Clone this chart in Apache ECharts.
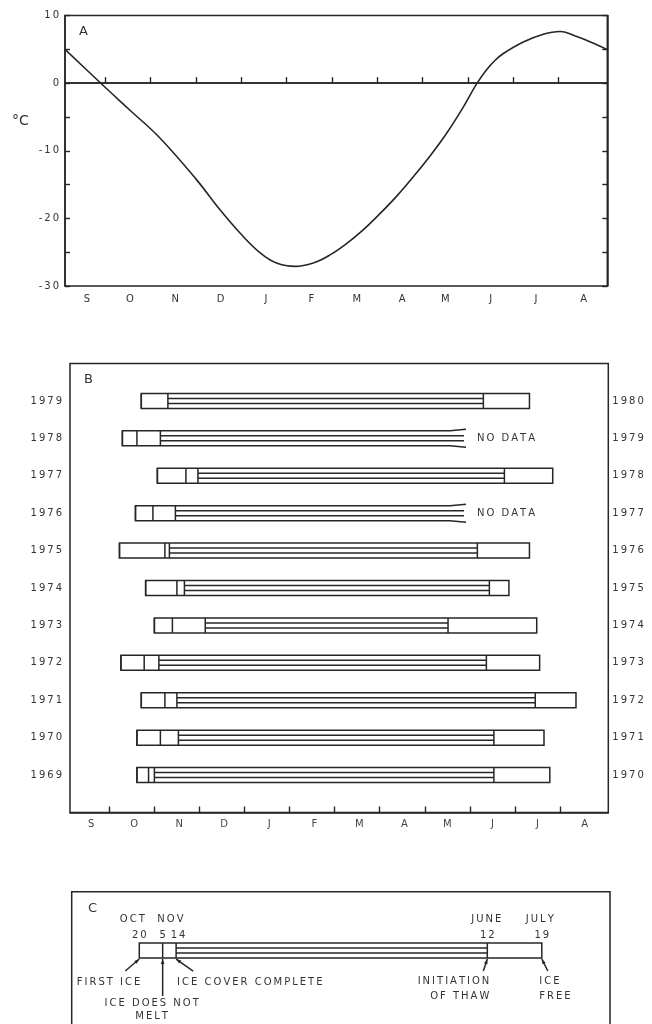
<!DOCTYPE html>
<html><head><meta charset="utf-8">
<script src="https://cdn.jsdelivr.net/npm/echarts@6.0.0/dist/echarts.min.js"></script>
<style>html,body{margin:0;padding:0;background:#fff;}#chart{width:652px;height:1024px;}</style>
</head><body><div id="chart"></div>
<script>
// ---------- shared axis labels ----------
const monthLetters = ['S','O','N','D','J','F','M','A','M','J','J','A'];
const monthLabelPos = [0.6, 1.55, 2.55, 3.55, 4.55, 5.55, 6.55, 7.55, 8.5, 9.5, 10.5, 11.55];
const monthTicks = [1, 2, 3, 4, 5, 6, 7, 8, 9, 10, 11];
const tempTickLabels = [10, 0, -10, -20, -30];

// ---------- Panel A: air temperature (x in months after Sep 1) ----------
const tempMonth = [0.118, 0.89, 1.55, 2.21, 3.02, 3.53, 3.98, 4.42, 4.78, 5.19, 5.59, 5.96, 6.33, 6.69, 7.06, 7.43, 7.80, 8.16, 8.53, 8.90, 9.19, 9.41, 9.60, 9.78, 10.22, 10.66, 11.03, 11.40, 11.84, 12.06];
const tempC     = [5.0, 0.1, -4.0, -8.1, -14.3, -18.7, -22.2, -25.1, -26.6, -27.1, -26.6, -25.4, -23.7, -21.7, -19.3, -16.7, -13.8, -10.8, -7.4, -3.5, -0.1, 2.0, 3.4, 4.4, 6.1, 7.25, 7.65, 6.9, 5.7, 5.0];

// ---------- Panel B: ice seasons (MM-DD) ----------
const freezeYears = [1979, 1978, 1977, 1976, 1975, 1974, 1973, 1972, 1971, 1970, 1969];
const thawYears   = [1980, 1979, 1978, 1977, 1976, 1975, 1974, 1973, 1972, 1971, 1970];
const firstIce    = ['10-23','10-10','11-03','10-19','10-08','10-26','11-01','10-09','10-23','10-20','10-20'];
const iceNoMelt   = ['11-10','10-20','11-22','10-31','11-08','11-16','11-13','10-25','11-08','11-05','10-28'];
const iceComplete = ['11-10','11-05','11-30','11-15','11-11','11-21','12-05','11-04','11-16','11-17','11-01'];
const thawStart   = ['06-10', null, '06-24', null, '06-06','06-14','05-17','06-12','07-15','06-17','06-17'];
const iceFree     = ['07-11', null, '07-27', null, '07-11','06-27','07-16','07-18','08-12','07-21','07-25'];
const noDataEnd   = '05-28';

// ---------- Panel C: legend (mean dates) ----------
const legendDates = ['10-20','11-05','11-14','06-12','07-19'];
const legendDayLabels = ['20','5','14','12','19'];
const legendMonthLabels = ['OCT','NOV','','JUNE','JULY'];
const legendCaptions = ['FIRST ICE','ICE DOES NOT\nMELT','ICE COVER COMPLETE','INITIATION\nOF THAW','ICE\nFREE'];

const DAYS = [31,28,31,30,31,30,31,31,30,31,30,31];
function toMonthPos(md) {
  const [mm, dd] = md.split('-').map(Number);
  return ((mm - 9 + 12) % 12) + (dd - 1) / DAYS[mm - 1];
}
const INK = '#262626', TXT = '#333', FONT = 'DejaVu Sans', LW = 1.5;
const spaced = s => String(s).split('\n').map(l => l.split('').join('\u2009')).join('\n');
const txt = (x, y, text, align, va, extra) => Object.assign({
  type: 'text', x: x, y: y, silent: true,
  style: Object.assign({ text: spaced(text), fill: TXT, fontFamily: FONT, fontSize: 10,
    align: align || 'center', verticalAlign: va || 'middle' }, extra || {})
});
const seg = (x1, y1, x2, y2) => ({ type: 'line', silent: true, shape: { x1, y1, x2, y2 }, style: { stroke: INK, lineWidth: LW } });
function arrowHead(px, py, qx, qy) {
  const dx = px - qx, dy = py - qy, len = Math.hypot(dx, dy), ux = dx / len, uy = dy / len;
  const bx = px - ux * 5, by = py - uy * 5;
  return { type: 'polygon', silent: true, shape: { points: [[px, py], [bx - uy * 1.8, by + ux * 1.8], [bx + uy * 1.8, by - ux * 1.8]] }, style: { fill: INK } };
}

function renderRow(params, api) {
  const i = params.dataIndex, yv = 11 - i;
  const px = d => api.coord([toMonthPos(d), yv])[0];
  const cy = api.coord([toMonthPos(firstIce[i]), yv])[1];
  const h = api.size([0, 1])[1] * 0.4, k = h / 6, top = cy - h / 2, bot = cy + h / 2;
  const L = px(firstIce[i]), Nm = px(iceNoMelt[i]), Cp = px(iceComplete[i]);
  const ch = [];
  let innerEnd;
  if (iceFree[i]) {
    const R = px(iceFree[i]), T = px(thawStart[i]);
    ch.push({ type: 'rect', silent: true, shape: { x: L, y: top, width: R - L, height: h }, style: { fill: '#fff', stroke: INK, lineWidth: LW } });
    ch.push(seg(T, top, T, bot));
    innerEnd = T;
  } else {
    const E = px(noDataEnd);
    ch.push({ type: 'polyline', silent: true, shape: { points: [[E + 2, top - 1.5], [E - 14, top], [L, top], [L, bot], [E - 14, bot], [E + 2, bot + 1.5]] }, style: { fill: 'none', stroke: INK, lineWidth: LW } });
    ch.push(txt(E + 13, cy, 'NO DATA', 'left'));
    innerEnd = E;
  }
  ch.push(seg(L, top, L, bot));
  ch.push(seg(Nm, top, Nm, bot));
  if (Cp !== Nm) ch.push(seg(Cp, top, Cp, bot));
  ch.push(seg(Cp, cy - k, innerEnd, cy - k));
  ch.push(seg(Cp, cy + k, innerEnd, cy + k));
  return { type: 'group', children: ch };
}

function renderLegend(params, api) {
  const xs = legendDates.map(d => api.coord([toMonthPos(d), 0])[0]);
  const cy = api.coord([toMonthPos(legendDates[0]), 0])[1];
  const h = 15, k = h / 6, top = cy - h / 2, bot = cy + h / 2;
  const ch = [];
  ch.push({ type: 'rect', silent: true, shape: { x: xs[0], y: top, width: xs[4] - xs[0], height: h }, style: { fill: '#fff', stroke: INK, lineWidth: LW } });
  [1, 2, 3].forEach(j => ch.push(seg(xs[j], top, xs[j], bot)));
  ch.push(seg(xs[2], cy - k, xs[3], cy - k));
  ch.push(seg(xs[2], cy + k, xs[3], cy + k));
  legendDayLabels.forEach((t, j) => ch.push(txt(xs[j] + (j === 2 ? 2 : 0), top - 7.5, t)));
  const mShift = [-7, 0, 0, -1, -2];
  legendMonthLabels.forEach((t, j) => {
    if (!t) return;
    const x = (j === 1) ? (xs[1] + xs[2]) / 2 + 1 : xs[j] + mShift[j];
    ch.push(txt(x, top - 23.5, t));
  });
  ch.push(seg(xs[0], bot + 1, xs[0] - 14, bot + 13)); ch.push(arrowHead(xs[0], bot + 1, xs[0] - 14, bot + 13));
  ch.push(txt(xs[0] + 1, bot + 17, legendCaptions[0], 'right', 'top', { lineHeight: 14 }));
  ch.push(seg(xs[1], bot + 1, xs[1], bot + 38)); ch.push(arrowHead(xs[1], bot + 1, xs[1], bot + 38));
  ch.push(txt(xs[1] - 11, bot + 39, legendCaptions[1], 'center', 'top', { lineHeight: 12.7 }));
  ch.push(seg(xs[2], bot + 1, xs[2] + 17, bot + 13)); ch.push(arrowHead(xs[2], bot + 1, xs[2] + 17, bot + 13));
  ch.push(txt(xs[2] + 1, bot + 17, legendCaptions[2], 'left', 'top', { lineHeight: 14 }));
  ch.push(seg(xs[3], bot + 1, xs[3] - 4, bot + 13)); ch.push(arrowHead(xs[3], bot + 1, xs[3] - 4, bot + 13));
  ch.push(txt(xs[3] + 2, bot + 15.5, legendCaptions[3], 'right', 'top', { lineHeight: 15 }));
  ch.push(seg(xs[4], bot + 1, xs[4] + 6, bot + 13)); ch.push(arrowHead(xs[4], bot + 1, xs[4] + 6, bot + 13));
  ch.push(txt(xs[4] - 2.5, bot + 15.5, legendCaptions[4], 'left', 'top', { lineHeight: 15 }));
  return { type: 'group', children: ch };
}

const labelStyle = { color: TXT, fontFamily: FONT, fontSize: 10 };
const monthAxis = (gi, min, max, margin, color) => ({
  type: 'value', gridIndex: gi, min: min, max: max,
  axisLine: { show: true, lineStyle: { color: INK, width: 1.5 } },
  axisTick: { show: true, inside: true, length: 6, customValues: monthTicks, lineStyle: { color: INK, width: 1.4 } },
  axisLabel: Object.assign({}, labelStyle, { margin: margin, color: color, customValues: monthLabelPos,
    formatter: v => { const j = monthLabelPos.findIndex(p => Math.abs(p - v) < 1e-6); return j >= 0 ? monthLetters[j] : ''; } }),
  splitLine: { show: false }
});

const chart = echarts.init(document.getElementById('chart'), null, { renderer: 'canvas' });
chart.setOption({
  backgroundColor: '#fff',
  animation: false,
  grid: [
    { left: 65, top: 15.6, width: 542.3, height: 270.4, show: true, borderColor: INK, borderWidth: 1.5, outerBoundsMode: 'none' },
    { left: 70, top: 363.5, width: 538.3, height: 449, show: true, borderColor: INK, borderWidth: 1.5, outerBoundsMode: 'none' },
    { left: 71.7, top: 891.7, width: 538.3, height: 140, show: true, borderColor: INK, borderWidth: 1.5, outerBoundsMode: 'none' }
  ],
  xAxis: [
    monthAxis(0, 0.118, 12.071, 8, TXT),
    monthAxis(1, 0.128, 12.072, 7, '#444'),
    { type: 'value', gridIndex: 2, min: 0.107, max: 12.1, show: false }
  ],
  yAxis: [
    { type: 'value', gridIndex: 0, min: -30, max: 10, interval: 5, position: 'left',
      axisLine: { show: true, lineStyle: { color: INK, width: 1.5 } },
      axisTick: { show: true, inside: true, length: 5, lineStyle: { color: INK, width: 1.4 } },
      axisLabel: Object.assign({ margin: 6, formatter: v => tempTickLabels.indexOf(v) >= 0 ? spaced(v) : '' }, labelStyle),
      splitLine: { show: false } },
    { type: 'value', gridIndex: 0, min: -30, max: 10, interval: 5, position: 'right',
      axisLine: { show: true, lineStyle: { color: INK, width: 1.5 } },
      axisTick: { show: true, inside: true, length: 5, lineStyle: { color: INK, width: 1.4 } },
      axisLabel: { show: false }, splitLine: { show: false } },
    { type: 'value', gridIndex: 1, min: 0, max: 12, interval: 1, position: 'left',
      axisLine: { show: false }, axisTick: { show: false }, splitLine: { show: false },
      axisLabel: Object.assign({ margin: 8, formatter: v => (v >= 1 && v <= 11) ? spaced(freezeYears[11 - v]) : '' }, labelStyle) },
    { type: 'value', gridIndex: 1, min: 0, max: 12, interval: 1, position: 'right',
      axisLine: { show: false }, axisTick: { show: false }, splitLine: { show: false },
      axisLabel: Object.assign({ margin: 4, formatter: v => (v >= 1 && v <= 11) ? spaced(thawYears[11 - v]) : '' }, labelStyle) },
    { type: 'value', gridIndex: 2, min: -1, max: 1.38, inverse: true, show: false }
  ],
  series: [
    { type: 'line', xAxisIndex: 0, yAxisIndex: 0, smooth: 0.4, showSymbol: false, silent: true,
      data: tempMonth.map((m, i) => [m, tempC[i]]),
      lineStyle: { color: INK, width: 1.6 },
      markLine: { silent: true, symbol: 'none', label: { show: false }, lineStyle: { color: INK, width: 1.5, type: 'solid' }, data: [{ yAxis: 0 }] } },
    { type: 'custom', xAxisIndex: 1, yAxisIndex: 2, silent: true, clip: false,
      data: freezeYears.map((y, i) => [toMonthPos(firstIce[i]), 11 - i]), encode: { x: 0, y: 1 },
      renderItem: renderRow },
    { type: 'custom', xAxisIndex: 2, yAxisIndex: 4, silent: true, clip: false,
      data: [[toMonthPos(legendDates[0]), 0]], encode: { x: 0, y: 1 },
      renderItem: renderLegend }
  ],
  graphic: [
    { type: 'text', left: 79, top: 25, style: { text: 'A', fill: TXT, fontFamily: FONT, fontSize: 13 } },
    { type: 'text', left: 12, top: 114, style: { text: '°C', fill: TXT, fontFamily: FONT, fontSize: 14 } },
    { type: 'text', left: 84, top: 373, style: { text: 'B', fill: TXT, fontFamily: FONT, fontSize: 13 } },
    { type: 'text', left: 88, top: 902, style: { text: 'C', fill: TXT, fontFamily: FONT, fontSize: 13 } }
  ]
});
</script>
</body></html>
